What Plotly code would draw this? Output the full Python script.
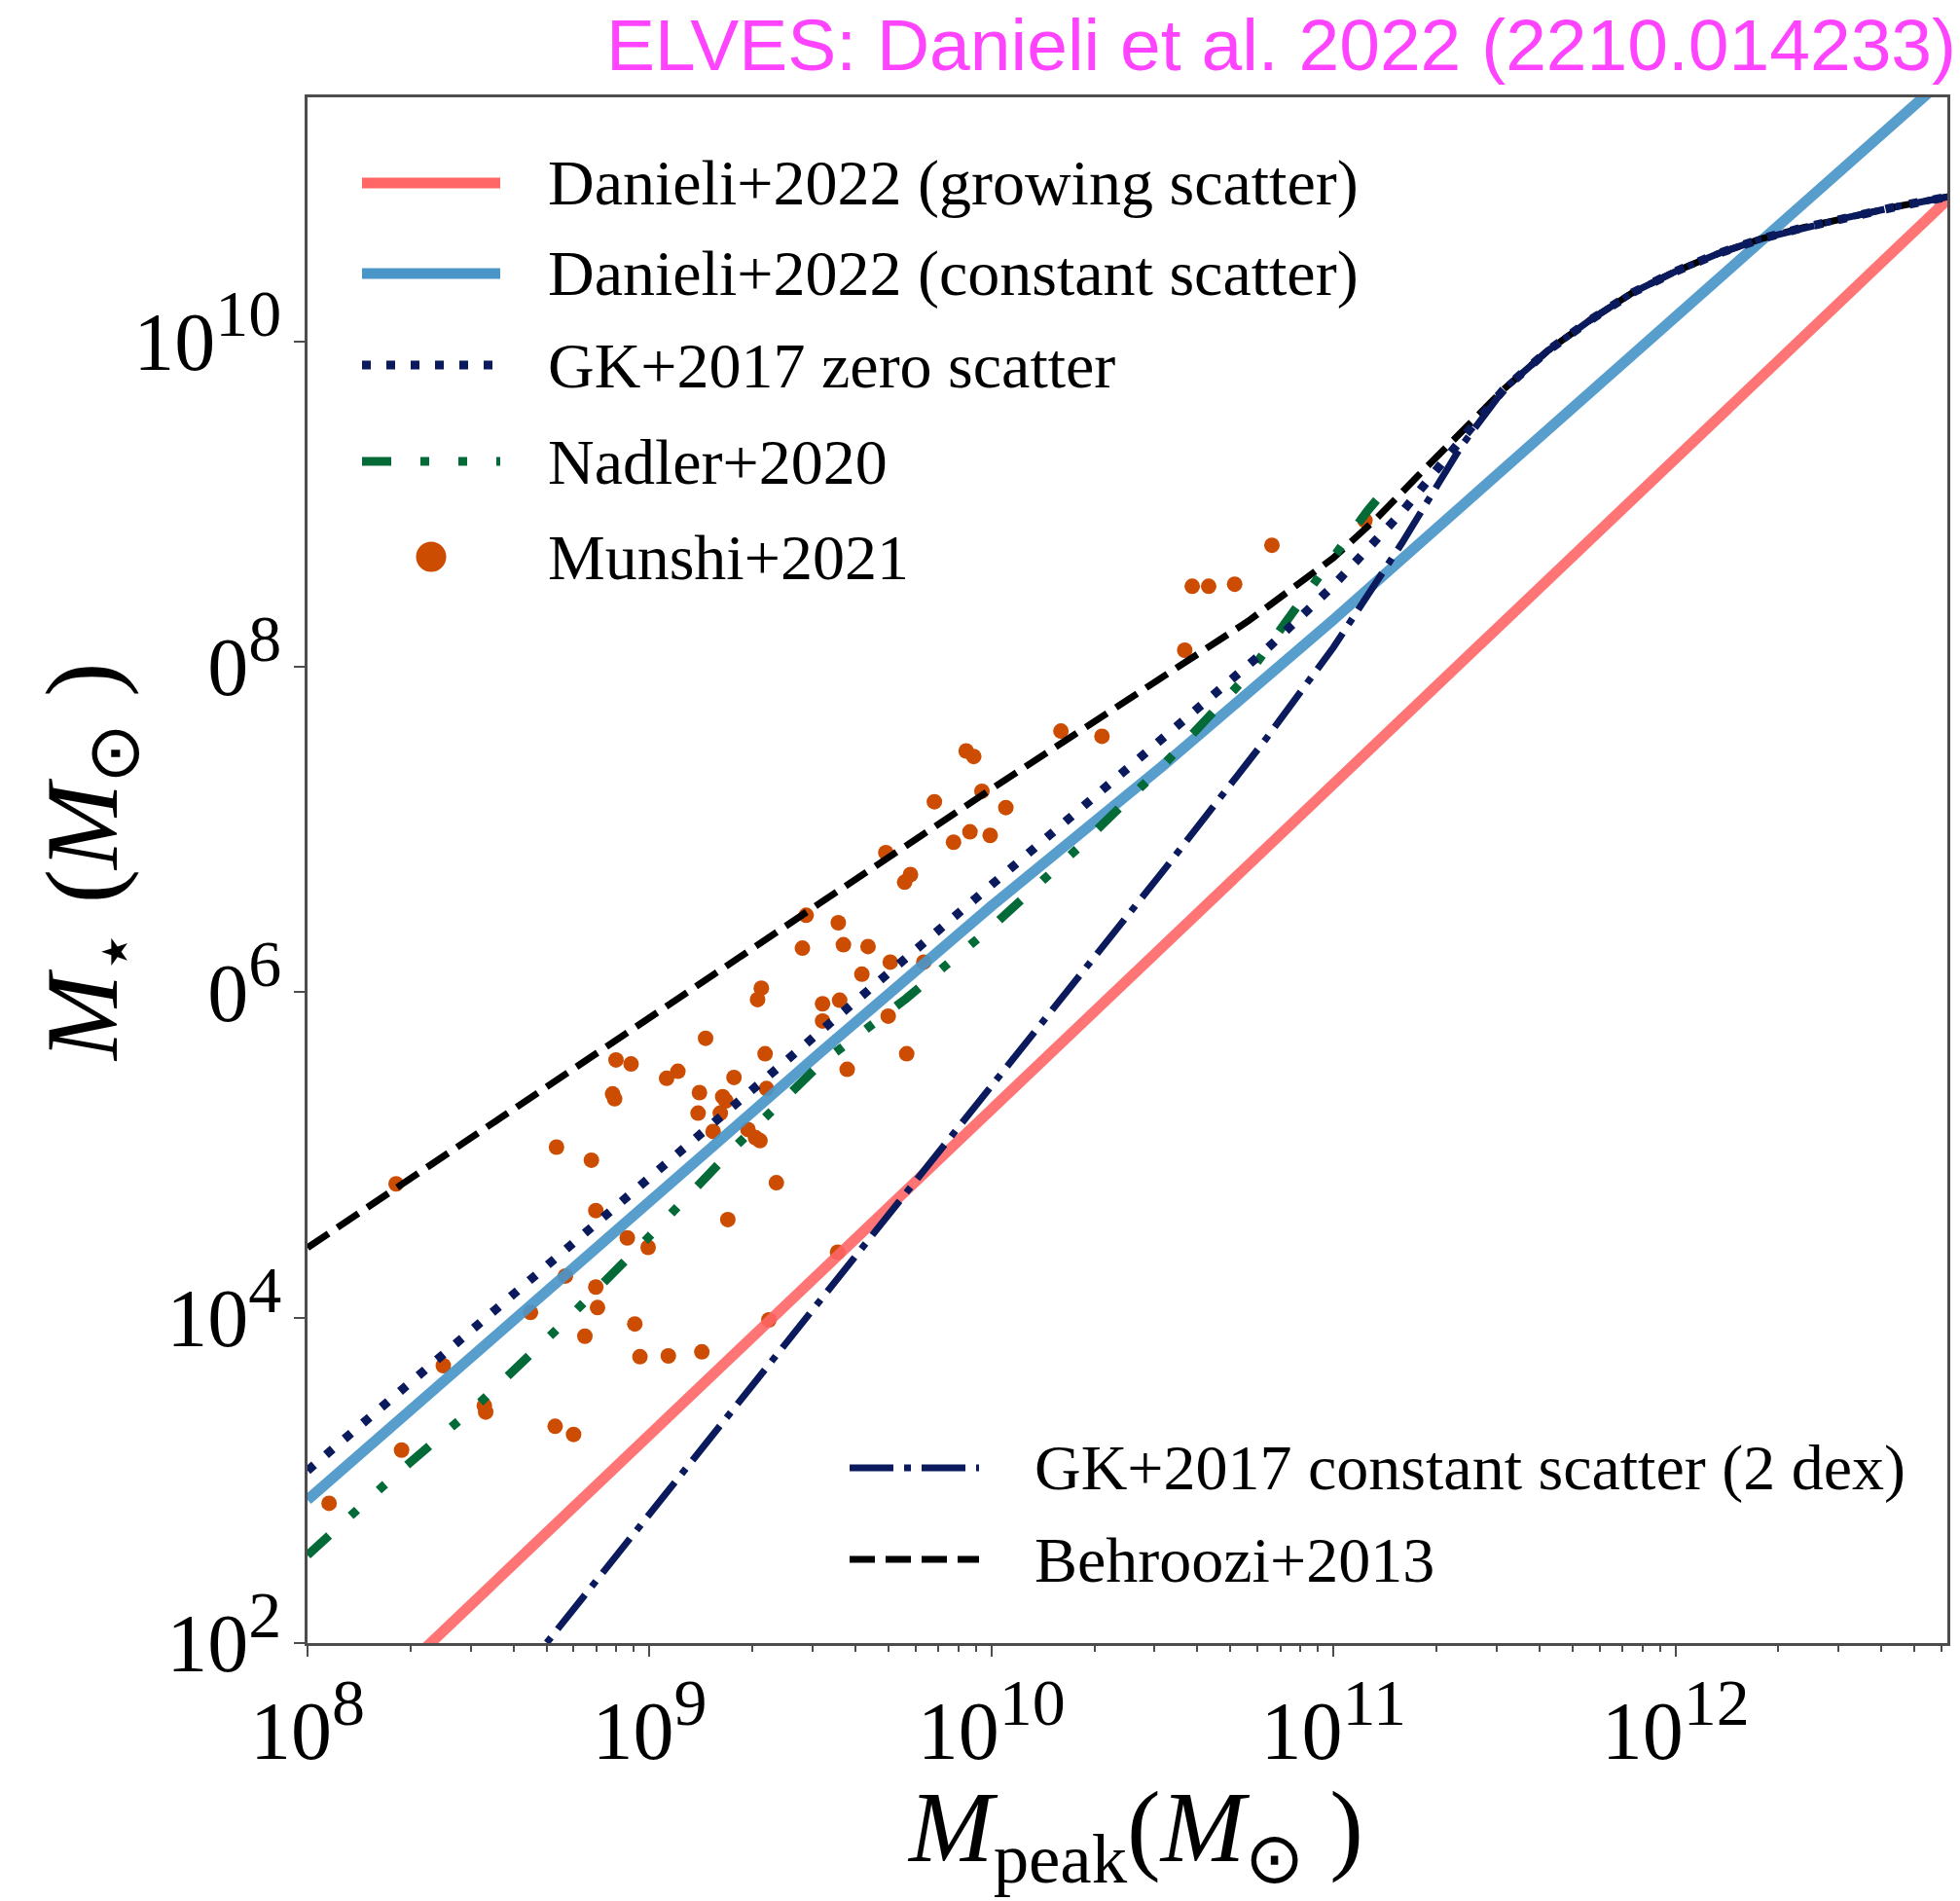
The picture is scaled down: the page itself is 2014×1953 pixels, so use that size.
import numpy as np
import plotly.graph_objects as go

# ---------------- data: log10 values ----------------
# Danieli+2022 (growing scatter)
red_logm = [8.0, 9.0, 10.0, 11.0, 12.0, 12.8]
red_logs = [1.28, 3.28, 5.28, 7.28, 9.28, 10.88]

# Danieli+2022 (constant scatter)
blue_logm = [8.0, 8.5, 9.0, 9.5, 10.0, 10.5, 11.0, 11.5, 12.0, 12.5, 12.8]
blue_logs = [2.88, 3.80, 4.72, 5.63, 6.53, 7.39, 8.29, 9.22, 10.15, 11.08, 11.64]

# Behroozi+2013
behroozi_logm = [8.0, 8.5, 9.0, 9.5, 10.0, 10.5, 10.75, 11.0, 11.125, 11.25, 11.375,
                 11.5, 11.625, 11.75, 11.875, 12.0, 12.125, 12.25, 12.375, 12.5, 12.65, 12.8]
behroozi_logs = [4.43, 5.14, 5.84, 6.55, 7.25, 7.94, 8.28, 8.67, 8.91, 9.18, 9.45,
                 9.71, 9.94, 10.13, 10.30, 10.43, 10.54, 10.63, 10.70, 10.76, 10.83, 10.89]

# GK+2017 zero scatter
gk0_logm = [8.0, 8.5, 9.0, 9.5, 10.0, 10.5, 10.8, 11.0, 11.2, 11.375, 11.5, 11.625,
            11.75, 11.875, 12.0, 12.125, 12.25, 12.375, 12.5, 12.65, 12.8]
gk0_logs = [3.06, 3.96, 4.86, 5.76, 6.65, 7.56, 8.10, 8.50, 8.95, 9.40, 9.71, 9.94,
            10.13, 10.30, 10.43, 10.54, 10.63, 10.70, 10.76, 10.83, 10.89]

# GK+2017 constant scatter (2 dex)
gk2_logm = [8.6, 9.0, 9.5, 10.0, 10.5, 10.8, 11.0, 11.2, 11.375, 11.5, 11.625,
            11.75, 11.875, 12.0, 12.125, 12.25, 12.375, 12.5, 12.65, 12.8]
gk2_logs = [1.74, 2.79, 4.10, 5.42, 6.74, 7.55, 8.12, 8.76, 9.36, 9.71, 9.94,
            10.13, 10.30, 10.43, 10.54, 10.63, 10.70, 10.76, 10.83, 10.89]

# Nadler+2020
nadler_logm = [8.0, 8.25, 8.5, 8.75, 9.0, 9.25, 9.5, 9.75, 10.0, 10.25, 10.5, 10.75,
               10.9, 11.0, 11.1, 11.18]
nadler_logs = [2.54, 3.02, 3.47, 3.97, 4.50, 5.05, 5.56, 5.96, 6.40, 6.88, 7.39, 7.95,
               8.39, 8.68, 8.96, 9.16]

# Munshi+2021 simulated dwarfs
munshi_logm = [8.259, 8.728, 8.830, 8.892, 8.898, 8.902, 8.946, 9.050, 9.083, 9.164,
               9.146, 9.214, 9.223, 9.247, 9.142, 9.207, 9.186, 9.338, 9.342, 9.288,
               9.310, 9.323, 9.371, 9.506, 9.578, 9.698, 9.752, 9.229, 8.843, 8.935,
               8.996, 8.754, 8.652, 8.843, 8.848, 8.957, 8.811, 8.397, 8.517, 8.521,
               8.724, 8.778, 8.972, 9.055, 9.153, 9.349, 9.550, 8.275, 8.063,
               10.820, 10.587, 10.635, 10.711, 10.565, 11.092, 10.203, 10.323, 9.926,
               9.948, 9.972, 9.833, 10.042, 9.937, 9.996, 9.889, 9.691, 9.763, 9.746,
               9.458, 9.552, 9.567, 9.639, 9.447, 9.704, 9.802, 9.621, 9.327, 9.316,
               9.506, 9.556]
munshi_logs = [4.822, 5.048, 4.968, 5.375, 5.345, 5.584, 5.559, 5.471, 5.514, 5.717,
               5.383, 5.358, 5.332, 5.476, 5.257, 5.257, 5.144, 5.622, 5.408, 5.156,
               5.106, 5.088, 4.829, 5.823, 5.526, 5.853, 5.622, 4.603, 4.658, 4.490,
               4.432, 4.256, 4.032, 4.188, 4.062, 3.961, 3.886, 3.705, 3.458, 3.420,
               3.332, 3.282, 3.760, 3.765, 3.790, 3.986, 4.402, 3.186, 2.859,
               8.747, 8.495, 8.495, 8.508, 8.102, 8.900, 7.605, 7.573, 7.483,
               7.449, 7.235, 7.171, 7.135, 6.986, 6.964, 6.922, 6.858, 6.723, 6.676,
               6.473, 6.427, 6.292, 6.281, 6.271, 6.185, 6.185, 6.111, 6.025, 5.955,
               5.929, 5.951]

x_ticks_log = [8, 9, 10, 11, 12]
x_tick_base = ["10", "10", "10", "10", "10"]
x_tick_exp = ["8", "9", "10", "11", "12"]
y_ticks_log = [2, 4, 6, 8, 10]
y_tick_base = ["10", "10", "0", "0", "10"]
y_tick_exp = ["2", "4", "6", "8", "10"]

legend_upper = ["Danieli+2022 (growing scatter)", "Danieli+2022 (constant scatter)",
                "GK+2017 zero scatter", "Nadler+2020", "Munshi+2021"]
legend_lower = ["GK+2017 constant scatter (2 dex)", "Behroozi+2013"]
title_text = "ELVES: Danieli et al. 2022 (2210.014233)"

# ---------------- styles ----------------
RED = "#FF6666"
BLUE = "#4A96C9"
NAVY = "#0A1A5C"
GREEN = "#046A38"
ORANGE = "#CC4C02"
AX = "#4d4d4d"
SERIF = "Liberation Serif, Times New Roman, serif"

st_red = dict(color=RED, width=11)
st_blue = dict(color=BLUE, width=11)
st_dot = dict(color=NAVY, width=9, dash="9px,16px")
st_green = dict(color=GREEN, width=9, dash="30px,30px,9px,30px,9px,30px")
st_dashdot = dict(color=NAVY, width=7, dash="45px,11px,7px,11px")
st_dash = dict(color="black", width=7, dash="26px,11px")

W, H = 2014, 1953
L, R, T, B = 316, 13, 100, 265
PW, PH = W - L - R, H - T - B


def px(xp):
    return (xp - L) / PW


def py(yp):
    return (H - B - yp) / PH


def tolin(a):
    return 10 ** np.asarray(a, dtype=float)


def sup_label(base, exp):
    return base + "<sup><span style=\"font-size:68px\">" + exp + "</span></sup>"


fig = go.Figure()
fig.add_trace(go.Scatter(x=tolin(munshi_logm), y=tolin(munshi_logs), mode="markers",
                         marker=dict(color=ORANGE, size=16, line=dict(width=0)),
                         name=legend_upper[4]))
fig.add_trace(go.Scatter(x=tolin(red_logm), y=tolin(red_logs), mode="lines",
                         line=st_red, opacity=0.9, name=legend_upper[0]))
fig.add_trace(go.Scatter(x=tolin(blue_logm), y=tolin(blue_logs), mode="lines",
                         line=st_blue, opacity=0.92, name=legend_upper[1]))
fig.add_trace(go.Scatter(x=tolin(behroozi_logm), y=tolin(behroozi_logs), mode="lines",
                         line=st_dash, name=legend_lower[1]))
fig.add_trace(go.Scatter(x=tolin(nadler_logm), y=tolin(nadler_logs), mode="lines",
                         line=st_green, name=legend_upper[3]))
fig.add_trace(go.Scatter(x=tolin(gk0_logm), y=tolin(gk0_logs), mode="lines",
                         line=st_dot, name=legend_upper[2]))
fig.add_trace(go.Scatter(x=tolin(gk2_logm), y=tolin(gk2_logs), mode="lines",
                         line=st_dashdot, name=legend_lower[0]))

# ---------------- custom legend (long line samples as in the reference) ----------------
shapes = []
annotations = []
up_rows = [188, 281, 375, 474, 572]
up_styles = [st_red, st_blue, st_dot, st_green, None]
for lab, yy, stl in zip(legend_upper, up_rows, up_styles):
    if stl is not None:
        shapes.append(dict(type="line", xref="paper", yref="paper",
                           x0=px(372), x1=px(514), y0=py(yy), y1=py(yy), line=stl))
    else:
        r = 15.5
        shapes.append(dict(type="circle", xref="paper", yref="paper",
                           x0=px(443 - r), x1=px(443 + r), y0=py(yy + r), y1=py(yy - r),
                           fillcolor=ORANGE, line=dict(width=0)))
    annotations.append(dict(text=lab, xref="paper", yref="paper", x=px(561), y=py(yy),
                            xanchor="left", yanchor="middle", showarrow=False,
                            font=dict(family=SERIF, size=66, color="black")))

low_rows = [1508, 1602]
low_styles = [st_dashdot, st_dash]
for lab, yy, stl in zip(legend_lower, low_rows, low_styles):
    shapes.append(dict(type="line", xref="paper", yref="paper",
                       x0=px(873), x1=px(1006), y0=py(yy), y1=py(yy), line=stl))
    annotations.append(dict(text=lab, xref="paper", yref="paper", x=px(1061), y=py(yy),
                            xanchor="left", yanchor="middle", showarrow=False,
                            font=dict(family=SERIF, size=66, color="black")))

# title (top right, magenta)
annotations.append(dict(text=title_text, xref="paper", yref="paper", x=px(2012), y=py(46),
                        xanchor="right", yanchor="middle", showarrow=False,
                        font=dict(family="Liberation Sans, Arial, sans-serif", size=75,
                                  color="#FF44FF")))
# axis titles
annotations.append(dict(text="<i>M</i><sub>peak</sub>(<i>M</i><sub>⊙</sub> )",
                        xref="paper", yref="paper", x=px(1166), y=py(1884),
                        xanchor="center", yanchor="middle", showarrow=False,
                        font=dict(family=SERIF, size=104, color="black")))
annotations.append(dict(text="<i>M</i><sub>⋆</sub> (<i>M</i><sub>⊙</sub> )",
                        xref="paper", yref="paper", x=px(92), y=py(886),
                        xanchor="center", yanchor="middle", showarrow=False, textangle=-90,
                        font=dict(family=SERIF, size=106, color="black")))

axis_common = dict(type="log", showgrid=False, zeroline=False, showline=True,
                   linecolor=AX, linewidth=3, mirror=True, ticks="outside",
                   ticklen=11, tickwidth=2, tickcolor=AX,
                   tickfont=dict(family=SERIF, size=84, color="black"))

fig.update_layout(
    width=W, height=H,
    margin=dict(l=L, r=R, t=T, b=B, autoexpand=False),
    paper_bgcolor="white", plot_bgcolor="white",
    showlegend=False,
    xaxis=dict(axis_common, range=[8, 12.795], tickmode="array",
               tickvals=list(tolin(x_ticks_log)),
               ticktext=[sup_label(b, e) for b, e in zip(x_tick_base, x_tick_exp)],
               ticklabelstandoff=4,
               minor=dict(ticks="outside", ticklen=6, tickwidth=1.5, tickcolor=AX,
                          dtick="D1", showgrid=False)),
    yaxis=dict(axis_common, range=[2, 11.5], tickmode="array",
               tickvals=list(tolin(y_ticks_log)),
               ticktext=[sup_label(b, e) for b, e in zip(y_tick_base, y_tick_exp)],
               ticklabelstandoff=-4),
    shapes=shapes,
    annotations=annotations,
)

fig.write_html("out.html")
